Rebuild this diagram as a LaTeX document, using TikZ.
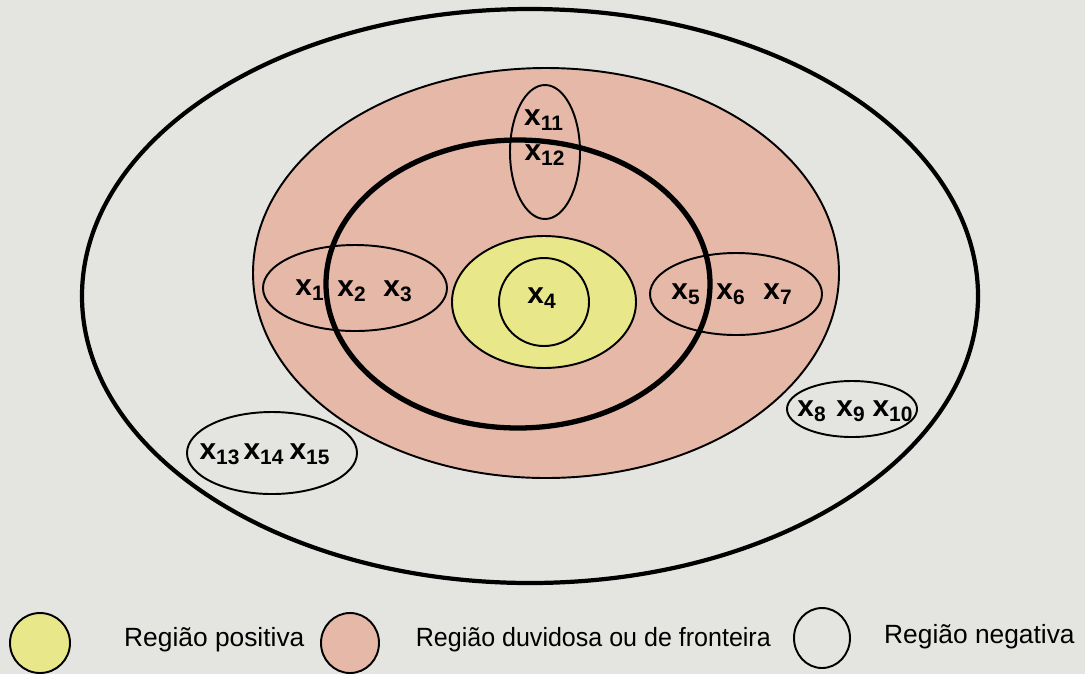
\documentclass[tikz,border=0pt]{standalone}
\usepackage{fontspec}
\setmainfont{Liberation Sans}
\definecolor{bgpage}{RGB}{228,228,225}
\definecolor{rpink}{RGB}{230,184,168}
\definecolor{ryellow}{RGB}{232,232,138}
\newcommand{\xs}[1]{x\textsubscript{#1}}
\begin{document}
\begin{tikzpicture}[x=0.02cm, y=-0.02cm,
  every node/.style={font=\fontsize{17}{20}\selectfont\bfseries},
  thin line/.style={draw=black, line width=1.1pt},
  legend text/.style={font=\fontsize{15}{17}\selectfont, anchor=west}]
% page
\fill[bgpage] (0,0) rectangle (1085,674);
\useasboundingbox (0,0) rectangle (1085,674);
% regions
\draw[line width=2.4pt] (530,296) ellipse [x radius=448, y radius=287];
\filldraw[fill=rpink, thin line] (546,273) ellipse [x radius=293, y radius=205];
\filldraw[fill=ryellow, thin line] (544,302) ellipse [x radius=92, y radius=66];
\draw[thin line] (544,302) ellipse [x radius=45, y radius=44];
% groups
\draw[thin line] (355,288) ellipse [x radius=92, y radius=43];
\draw[thin line] (736,294) ellipse [x radius=86, y radius=41];
\draw[thin line] (545,152) ellipse [x radius=35, y radius=67];
\draw[thin line] (852,409) ellipse [x radius=65, y radius=28];
\draw[thin line] (272,453) ellipse [x radius=85, y radius=41];
% set X
\draw[line width=3pt] (518,284) ellipse [x radius=192, y radius=144];
% objects
\node (x1) at (310,290) {\xs{1}};
\node (x2) at (352,291) {\xs{2}};
\node (x3) at (398,291) {\xs{3}};
\node (x4) at (542,298) {\xs{4}};
\node (x5) at (686,294) {\xs{5}};
\node (x6) at (731,294) {\xs{6}};
\node (x7) at (778,294) {\xs{7}};
\node (x8) at (812,411) {\xs{8}};
\node (x9) at (851,411) {\xs{9}};
\node (x10) at (893,411) {\xs{10}};
\node (x11) at (544,120) {\xs{11}};
\node (x12) at (545,155) {\xs{12}};
\node (x13) at (220,454) {\xs{13}};
\node (x14) at (264,454) {\xs{14}};
\node (x15) at (310,454) {\xs{15}};
% legend
\filldraw[fill=ryellow, thin line] (40,643) ellipse [x radius=30, y radius=30];
\node[legend text] (lpos) at (118,640) {Região positiva};
\filldraw[fill=rpink, thin line] (350,643) ellipse [x radius=29, y radius=30];
\node[legend text, xscale=0.95] (ldub) at (410,640) {Região duvidosa ou de fronteira};
\draw[thin line] (822,638) ellipse [x radius=28, y radius=30];
\node[legend text] (lneg) at (878,637) {Região negativa};
\end{tikzpicture}
\end{document}
